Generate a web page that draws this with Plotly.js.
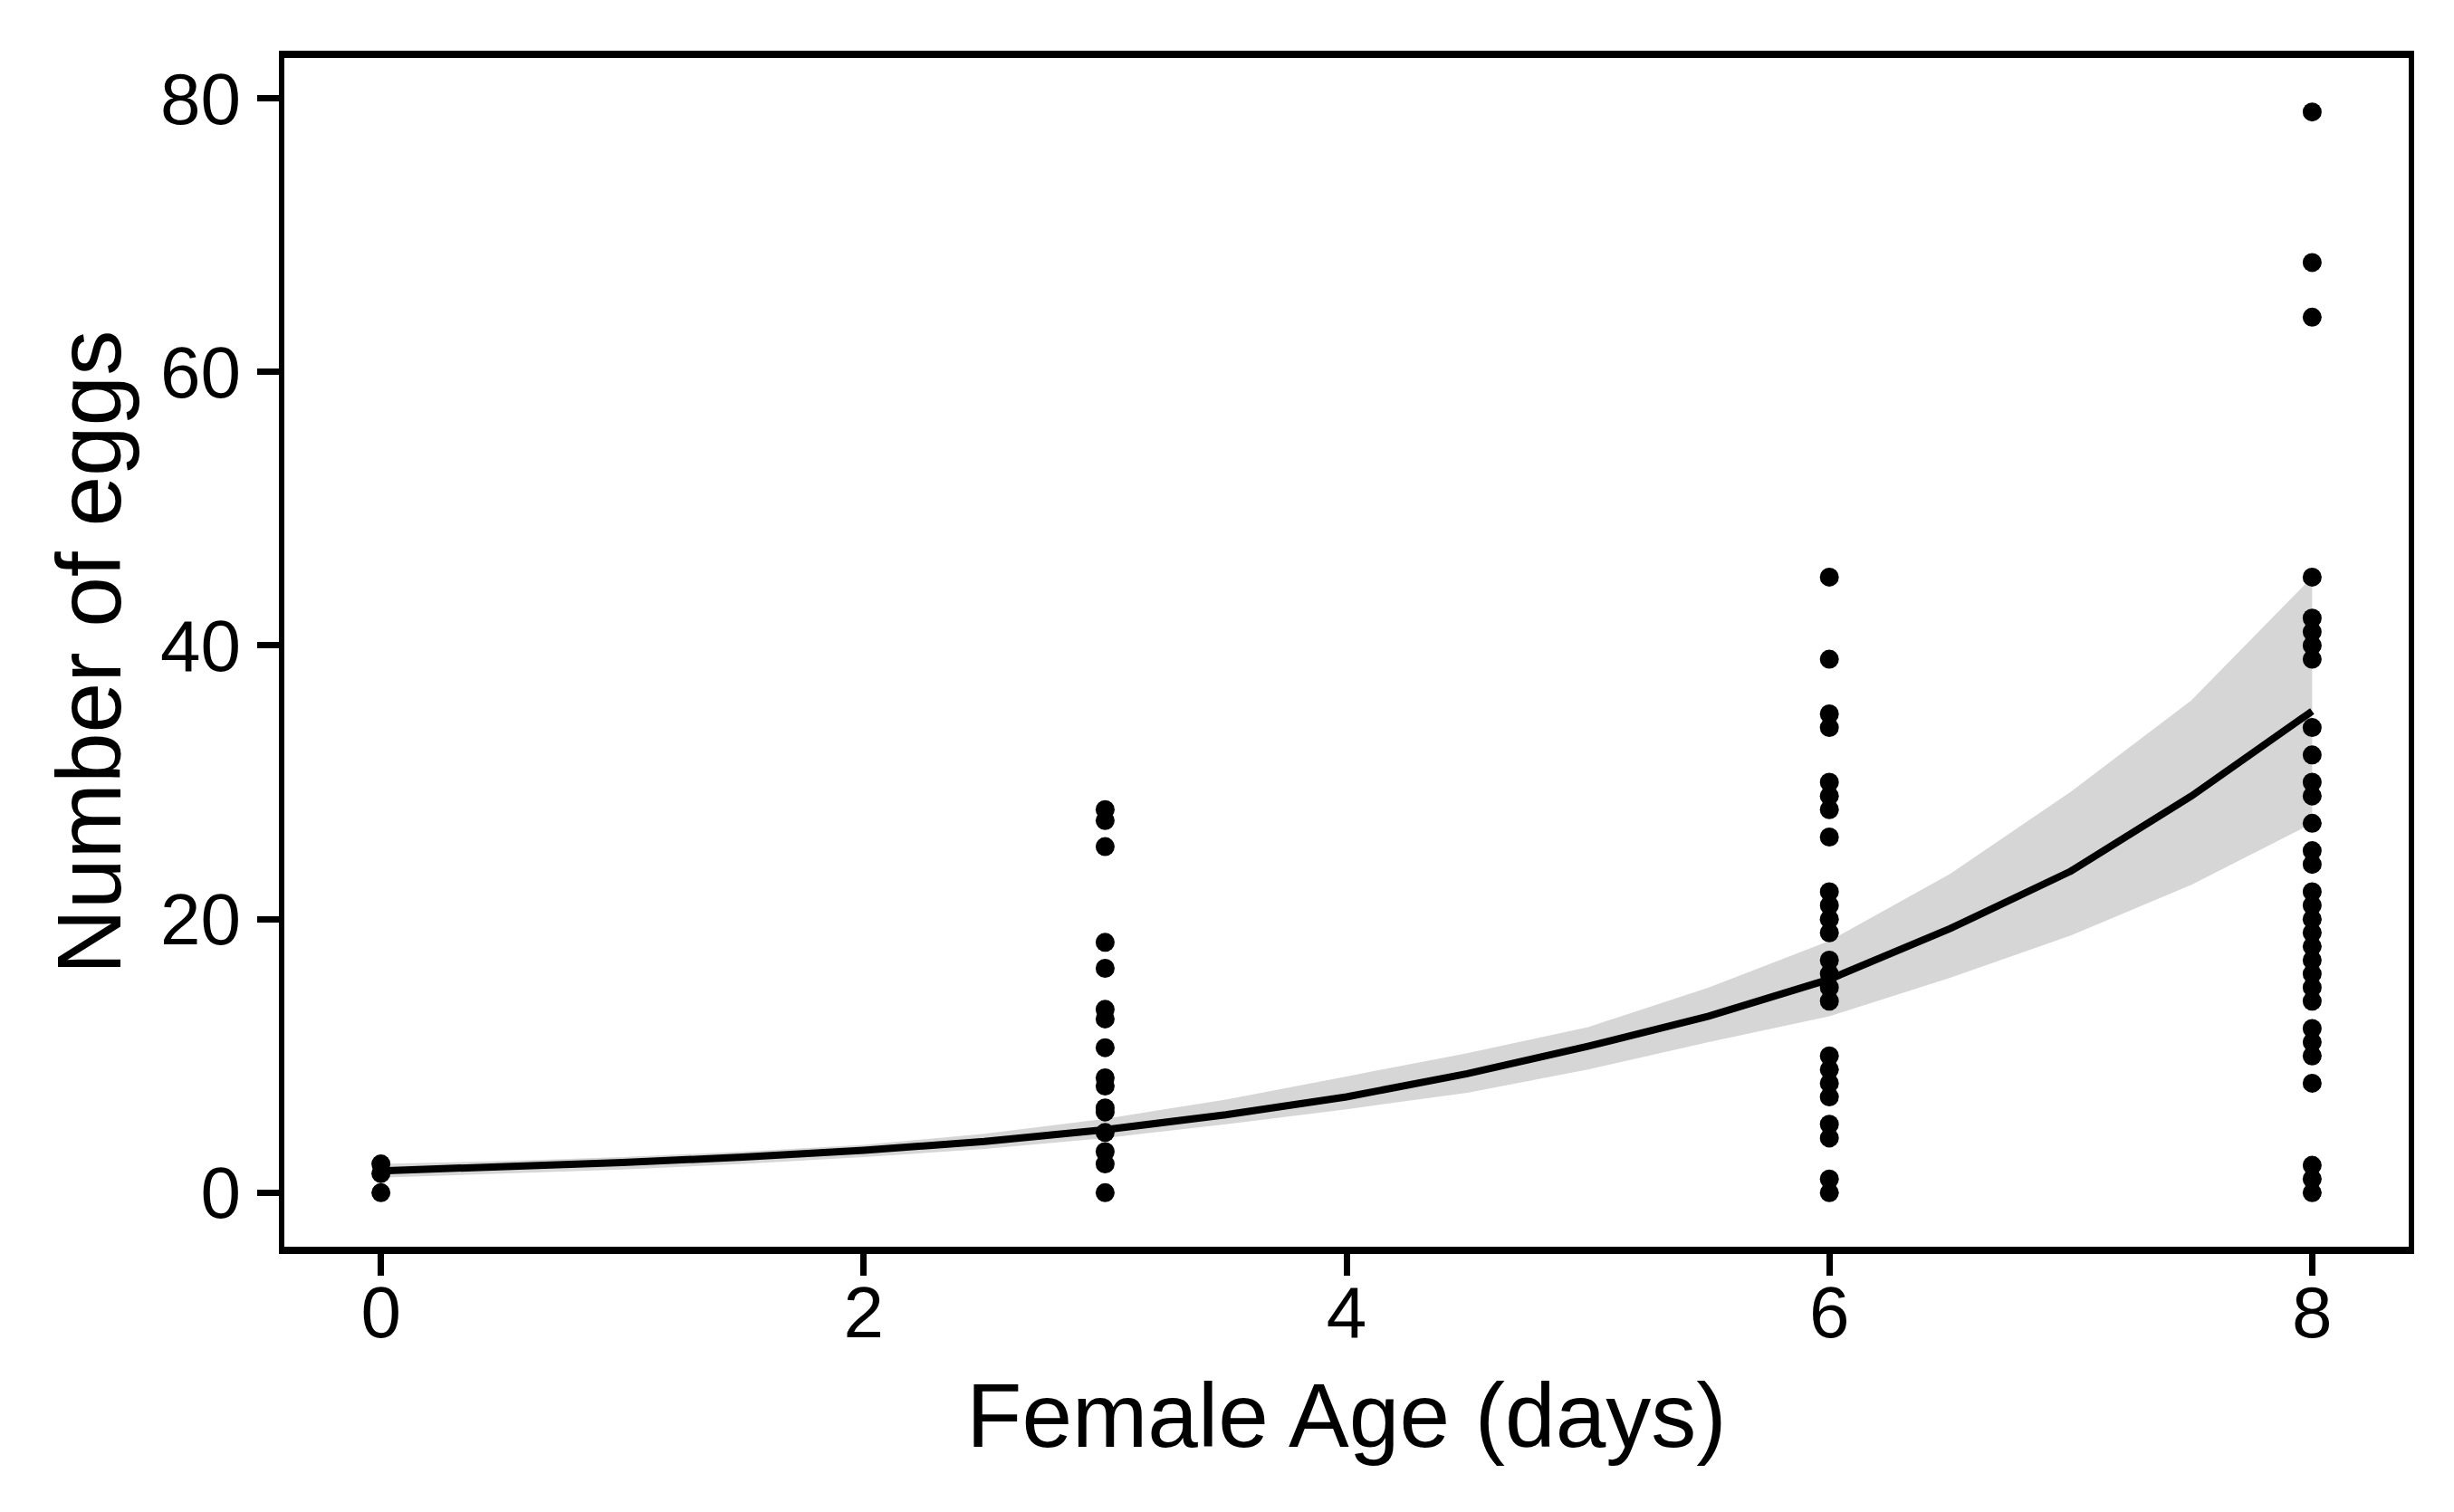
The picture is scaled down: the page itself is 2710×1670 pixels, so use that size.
<!DOCTYPE html>
<html>
<head>
<meta charset="utf-8">
<script src="https://cdn.plot.ly/plotly-3.0.1.min.js"></script>
<style>
  html, body { margin: 0; padding: 0; background: #ffffff; }
  #chart { width: 2710px; height: 1670px; }
</style>
</head>
<body>
<div id="chart"></div>
<script>
// ---- Data ----
const ageGroups = [0, 3, 6, 8];
const eggsDay0 = [2.1, 1.4, 0];
const eggsDay3 = [28, 27.2, 25.3, 18.3, 16.4, 13.4, 12.7, 10.6, 8.4, 7.8, 6.2, 5.9, 4.4, 3.0, 2.1, 0];
const eggsDay6 = [45, 39, 35, 34, 30, 29, 28, 26, 22, 21, 20, 19, 17, 16, 15, 14, 10, 9, 8, 7, 5, 4, 1, 0];
const eggsDay8 = [79, 68, 64, 45, 42, 41, 40, 39, 34, 32, 30, 29, 27, 25, 24, 22, 21, 20, 19, 18, 17, 16, 15, 14, 12, 11, 10, 8, 2, 1, 0];

const fitAge   = [0, 0.5, 1, 1.5, 2, 2.5, 3, 3.5, 4, 4.5, 5, 5.5, 6, 6.5, 7, 7.5, 8];
const fitMean  = [1.6, 1.85, 2.2, 2.6, 3.1, 3.75, 4.6, 5.7, 7.0, 8.7, 10.7, 12.9, 15.6, 19.3, 23.5, 29.0, 35.2];
const fitLower = [1.1, 1.4, 1.7, 2.1, 2.6, 3.2, 4.0, 5.0, 6.1, 7.3, 9.0, 11.0, 12.9, 15.7, 18.8, 22.5, 27.0];
const fitUpper = [2.1, 2.3, 2.6, 3.0, 3.5, 4.3, 5.4, 6.8, 8.5, 10.2, 12.1, 15.0, 18.4, 23.3, 29.3, 36.0, 45.0];

const xTicks = [0, 2, 4, 6, 8];
const yTicks = [0, 20, 40, 60, 80];
const xTitle = 'Female Age (days)';
const yTitle = 'Number of eggs';

// ---- Build point arrays ----
const groups = [eggsDay0, eggsDay3, eggsDay6, eggsDay8];
const ptX = [], ptY = [];
groups.forEach((g, i) => g.forEach(v => { ptX.push(ageGroups[i]); ptY.push(v); }));

const FONT = 'Liberation Sans, Arial, Helvetica, sans-serif';

const traces = [
  { x: fitAge, y: fitLower, type: 'scatter', mode: 'lines',
    line: { width: 0, color: 'rgba(0,0,0,0)' }, hoverinfo: 'skip', showlegend: false },
  { x: fitAge, y: fitUpper, type: 'scatter', mode: 'lines', fill: 'tonexty',
    fillcolor: 'rgb(214,214,214)', line: { width: 0, color: 'rgba(0,0,0,0)' },
    hoverinfo: 'skip', showlegend: false },
  { x: fitAge, y: fitMean, type: 'scatter', mode: 'lines',
    line: { width: 8, color: '#000000' }, showlegend: false },
  { x: ptX, y: ptY, type: 'scatter', mode: 'markers',
    marker: { size: 21, color: '#000000' }, showlegend: false }
];

const layout = {
  width: 2710, height: 1670,
  margin: { l: 314, r: 50, t: 64, b: 293 },
  paper_bgcolor: '#ffffff', plot_bgcolor: '#ffffff',
  font: { family: FONT, color: '#000000' },
  showlegend: false,
  xaxis: {
    range: [-0.4, 8.4], tickvals: xTicks, ticktext: xTicks.map(String),
    showgrid: false, zeroline: false,
    showline: true, mirror: true, linecolor: '#000000', linewidth: 8,
    ticks: 'outside', ticklen: 24, tickwidth: 7, tickcolor: '#000000',
    tickfont: { size: 80, family: FONT, color: '#000000' },
    ticklabelstandoff: -28,
    title: { text: xTitle, font: { size: 100, family: FONT, color: '#000000' }, standoff: 38 },
    automargin: false
  },
  yaxis: {
    range: [-3.95, 82.95], tickvals: yTicks, ticktext: yTicks.map(String),
    showgrid: false, zeroline: false,
    showline: true, mirror: true, linecolor: '#000000', linewidth: 6,
    ticks: 'outside', ticklen: 24, tickwidth: 7, tickcolor: '#000000',
    tickfont: { size: 80, family: FONT, color: '#000000' },
    ticklabelstandoff: 2,
    title: { text: yTitle, font: { size: 100, family: FONT, color: '#000000' }, standoff: 12 },
    automargin: false
  }
};

Plotly.newPlot('chart', traces, layout, { displayModeBar: false, staticPlot: true });
</script>
</body>
</html>
